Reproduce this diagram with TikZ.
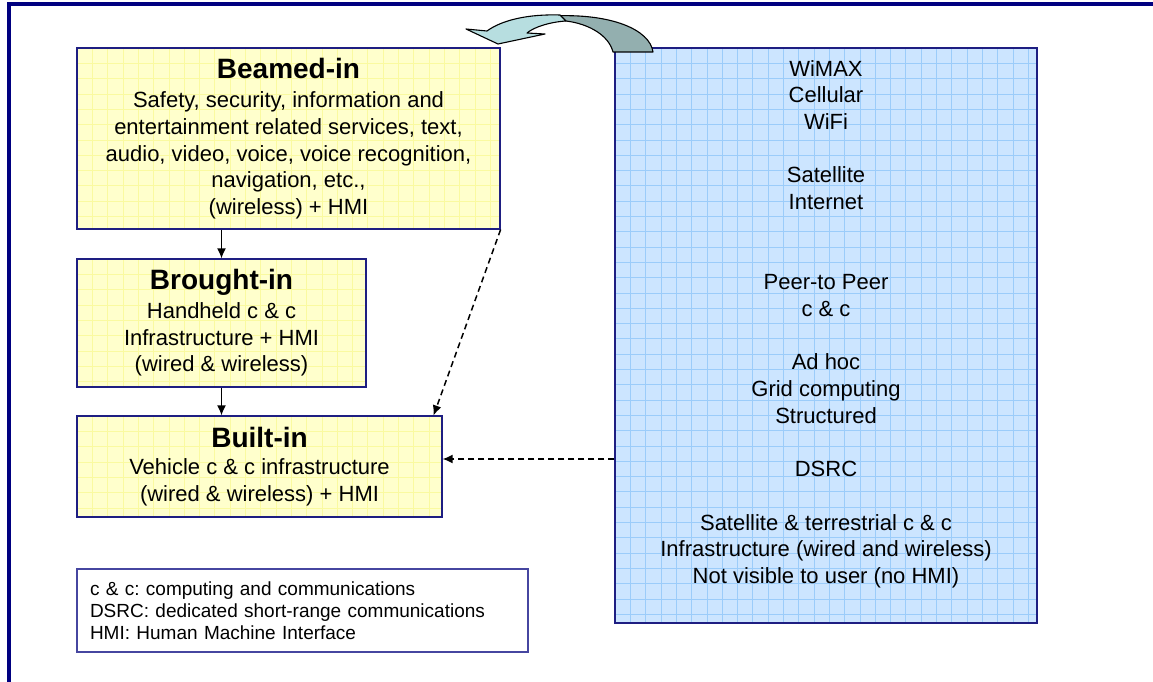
\documentclass[tikz,border=0pt]{standalone}
\usepackage{fontspec}
\setmainfont{Liberation Sans}
\frenchspacing
\usetikzlibrary{arrows.meta,calc}
\definecolor{navyframe}{RGB}{0,0,128}
\definecolor{boxline}{RGB}{30,30,130}
\definecolor{yfill}{RGB}{255,255,204}
\definecolor{yline}{RGB}{250,250,160}
\definecolor{bfill}{RGB}{204,229,255}
\definecolor{bline}{RGB}{155,204,250}
\definecolor{arrowlight}{RGB}{183,222,224}
\definecolor{arrowdark}{RGB}{147,175,175}
\definecolor{legline}{RGB}{70,70,160}
\tikzset{
  gridded/.style={path picture={
    \foreach \k in {1,...,40}{
      \draw[#1, line width=0.6pt] ([xshift=\k*15.3pt]path picture bounding box.north west) -- ++(0pt,-800pt);
      \draw[#1, line width=0.6pt] ([yshift=-\k*15.3pt]path picture bounding box.north west) -- ++(1000pt,0pt);
    }}},
  ybox/.style={draw=boxline, line width=1.2pt, fill=yfill, gridded=yline, align=center,
    inner sep=0pt, font=\fontsize{22}{26.7}\selectfont},
  bbox/.style={draw=boxline, line width=1.2pt, fill=bfill, gridded=bline, inner sep=0pt},
  btext/.style={align=center, inner sep=0pt, font=\fontsize{22}{26.7}\selectfont},
  legbox/.style={draw=legline, line width=1.2pt, fill=white, align=left, inner xsep=13pt,
    inner ysep=0pt, font=\fontsize{19}{22}\selectfont},
  conn/.style={-{Latex[length=10pt,width=9pt]}, line width=1.5pt, black},
  dconn/.style={conn, dash pattern=on 6pt off 4pt},
  ribbon/.style={draw=black, line width=1.1pt, line join=round}
}
\newcommand\boxtitle[1]{{\fontsize{28}{30}\selectfont\bfseries #1}}
\begin{document}
\begin{tikzpicture}[x=1pt, y=-1pt]
\useasboundingbox (0,0) rectangle (1153,682);
\fill[white] (0,0) rectangle (1153,682);
% frame
\draw[navyframe, line width=3.2pt] (9,700) -- (9,4) -- (1160,4);

% boxes
\node[ybox, minimum width=423, minimum height=181] (beamed) at (288.5,138.5)
  {\boxtitle{Beamed-in}\\[3pt]
   Safety, security, information and\\
   entertainment related services, text,\\
   audio, video, voice, voice recognition,\\
   navigation, etc.,\\
   (wireless) + HMI};
\node[ybox, minimum width=289, minimum height=128] (brought) at (221.5,323)
  {\boxtitle{Brought-in}\\[2pt]
   Handheld c \& c\\
   Infrastructure + HMI\\
   (wired \& wireless)};
\node[ybox, minimum width=365, minimum height=101] (built) at (259.5,466.5)
  {\boxtitle{Built-in}\\[1pt]
   Vehicle c \& c infrastructure\\
   (wired \& wireless) + HMI};
\node[bbox, minimum width=422, minimum height=575] (net) at (826,335.5) {};
\node[btext, anchor=north] (nettext) at (826,60)
  {WiMAX\\Cellular\\WiFi\\[26.7pt]
   Satellite\\Internet\\[53.4pt]
   Peer-to Peer\\c \& c\\[26.7pt]
   Ad hoc\\Grid computing\\Structured\\[26.7pt]
   DSRC\\[26.7pt]
   Satellite \& terrestrial c \& c\\
   Infrastructure (wired and wireless)\\
   Not visible to user (no HMI)};
\node[legbox, text width=425, minimum height=83] (legend) at (302.5,610.5)
  {c \& c: computing and communications\\
   DSRC: dedicated short-range communications\\
   HMI: Human Machine Interface};

% connectors
\draw[conn] (beamed.south -| brought.north) -- (brought.north);
\draw[conn] (brought.south) -- (built.north -| brought.south);
\coordinate (dtip) at ([xshift=-9pt]built.north east);
\draw[dconn] (beamed.south east) -- (dtip);
\coordinate (hend) at ([yshift=7.5pt]built.east);
\draw[dconn] (net.west |- hend) -- (hend);

% curved arrow (back ribbon, then front ribbon with head)
\draw[ribbon, fill=arrowdark] (552,16) .. controls (612,13) and (650,30) .. (653,52)
  -- (613,52) .. controls (609,36) and (590,24) .. (566,21) -- cycle;
\draw[ribbon, fill=arrowlight] (466,29) -- (487,31) .. controls (502,20) and (528,14) .. (560,15)
  -- (566,21) .. controls (550,22) and (534,27) .. (527,33) -- (545,34) -- (498,44) -- cycle;
\end{tikzpicture}
\end{document}
